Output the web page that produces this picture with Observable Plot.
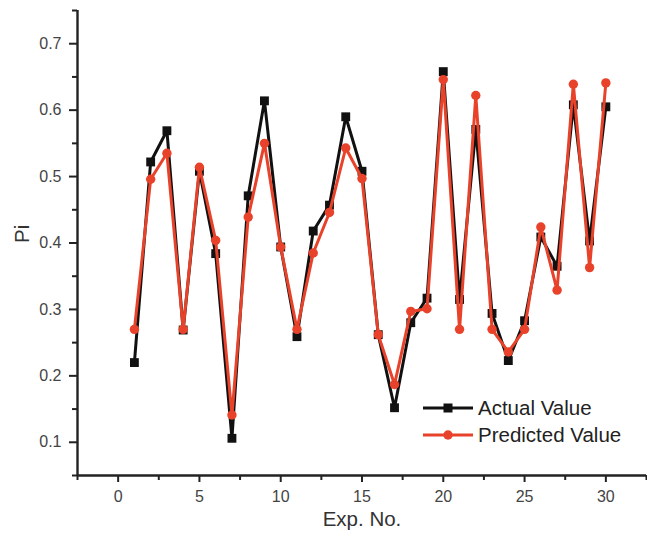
<!DOCTYPE html>
<html>
<head>
<meta charset="utf-8">
<script src="https://cdn.jsdelivr.net/npm/d3@7"></script>
<script src="https://cdn.jsdelivr.net/npm/@observablehq/plot@0.6"></script>
<style>
  html, body { margin: 0; padding: 0; background: #ffffff; }
  #wrap { position: relative; width: 647px; height: 536px; font-family: "Liberation Sans", Arial, sans-serif; }
  #legend { position: absolute; left: 423px; top: 394px; font-size: 20.5px; color: #222; }
  #legend .row { display: flex; align-items: center; height: 27px; }
  #legend svg { display: block; margin-right: 5px; }
</style>
</head>
<body>
<div id="wrap"></div>
<script>
const expNo = [1,2,3,4,5,6,7,8,9,10,11,12,13,14,15,16,17,18,19,20,21,22,23,24,25,26,27,28,29,30];
const actualValue = [0.220,0.522,0.569,0.269,0.508,0.384,0.106,0.471,0.614,0.394,0.259,0.418,0.457,0.590,0.508,0.262,0.152,0.280,0.317,0.658,0.315,0.571,0.294,0.223,0.283,0.409,0.365,0.608,0.403,0.605];
const predictedValue = [0.270,0.496,0.535,0.270,0.514,0.404,0.141,0.439,0.550,0.394,0.270,0.385,0.446,0.543,0.497,0.262,0.187,0.297,0.301,0.646,0.270,0.622,0.270,0.236,0.270,0.424,0.329,0.639,0.363,0.641];
const xTicks = [0,5,10,15,20,25,30];
const xMinor = [-2.5,2.5,7.5,12.5,17.5,22.5,27.5,32.5];
const yTicks = [0.1,0.2,0.3,0.4,0.5,0.6,0.7];
const yMinor = [0.05,0.15,0.25,0.35,0.45,0.55,0.65,0.75];
const seriesNames = ["Actual Value","Predicted Value"];
const seriesColors = ["#111111","#e8432a"];

const data = expNo.map((e,i) => ({exp: e, actual: actualValue[i], predicted: predictedValue[i]}));

const chart = Plot.plot({
  width: 647, height: 536,
  marginLeft: 77, marginRight: 1, marginTop: 10, marginBottom: 61,
  x: {domain: [-2.5, 32.5]},
  y: {domain: [0.05, 0.75]},
  style: {fontFamily: "'Liberation Sans', Arial, sans-serif", fontSize: "16px", color: "#444", background: "#ffffff"},
  marks: [
    Plot.axisY({ticks: yTicks, tickSize: 8, tickPadding: 8, tickFormat: d => d.toFixed(1), strokeWidth: 2, stroke: "#222", label: null, fill: "#444"}),
    Plot.axisY({ticks: yMinor, tickSize: 5, tickFormat: () => "", strokeWidth: 2, stroke: "#222", label: null}),
    Plot.axisX({ticks: xTicks, tickSize: 7, tickPadding: 8, tickFormat: d => String(d), strokeWidth: 2, stroke: "#222", label: null, fill: "#444"}),
    Plot.axisX({ticks: xMinor, tickSize: 5, tickFormat: () => "", strokeWidth: 2, stroke: "#222", label: null}),
    Plot.ruleX([-2.5], {stroke: "#222", strokeWidth: 2.4}),
    Plot.ruleY([0.05], {stroke: "#222", strokeWidth: 2.4}),
    Plot.line(data, {x: "exp", y: "actual", stroke: seriesColors[0], strokeWidth: 3}),
    Plot.dot(data, {x: "exp", y: "actual", symbol: "square", r: 5, fill: seriesColors[0], stroke: "none"}),
    Plot.line(data, {x: "exp", y: "predicted", stroke: seriesColors[1], strokeWidth: 3}),
    Plot.dot(data, {x: "exp", y: "predicted", symbol: "circle", r: 4.7, fill: seriesColors[1], stroke: "none"}),
    Plot.text(["Pi"], {frameAnchor: "left", rotate: -90, dx: -55, fontSize: 20.5, fill: "#333"}),
    Plot.text(["Exp. No."], {frameAnchor: "bottom", dy: 50, fontSize: 20.5, fill: "#333"})
  ]
});

const wrap = document.getElementById("wrap");
wrap.appendChild(chart);

const legend = document.createElement("div");
legend.id = "legend";
seriesNames.forEach((name, i) => {
  const row = document.createElement("div");
  row.className = "row";
  const marker = i === 0
    ? `<rect x="20.5" y="4.5" width="9" height="9" fill="${seriesColors[i]}"/>`
    : `<circle cx="25" cy="9" r="4.7" fill="${seriesColors[i]}"/>`;
  row.innerHTML = `<svg width="50" height="18"><line x1="0" y1="9" x2="50" y2="9" stroke="${seriesColors[i]}" stroke-width="3"/>${marker}</svg><span>${name}</span>`;
  legend.appendChild(row);
});
wrap.appendChild(legend);
</script>
</body>
</html>
